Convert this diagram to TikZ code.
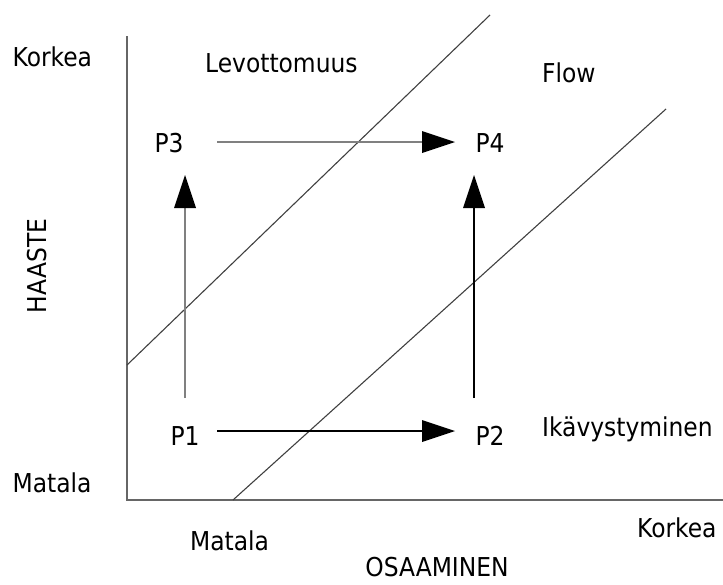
\documentclass[tikz,border=0pt]{standalone}
\usepackage{fontspec}
\setmainfont{DejaVu Sans Condensed}
\usetikzlibrary{arrows.meta}
\begin{document}
\begin{tikzpicture}[x=1pt,y=-1pt,
  lbl/.style={font=\fontsize{26}{30}\selectfont, inner sep=0pt, text=black},
  axisline/.style={line width=1.7pt, draw=black!60},
  diag/.style={line width=1.1pt, draw=black!75},
  bigtip/.style={-{Triangle[length=33pt,width=22pt,color=black,line width=0pt]}},
  grayarrow/.style={line width=2.5pt, draw=black!50, bigtip},
  blackarrow/.style={line width=1.3pt, draw=black, bigtip}]
\useasboundingbox (0,0) rectangle (723,584);
% axes
\coordinate (top) at (127,36);
\coordinate (origin) at (127,500);
\coordinate (right) at (723,500);
\draw[axisline] (top) -- (origin) -- (right);
% diagonals
\coordinate (d1a) at (127,365);
\coordinate (d1b) at (490,15);
\coordinate (d2a) at (233,500);
\coordinate (d2b) at (666,109);
\draw[diag] (d1a) -- (d1b);
\draw[diag] (d2a) -- (d2b);
% labels
\node[lbl, anchor=base west] (kl) at (12.5,66) {Korkea};
\node[lbl, anchor=base west] (lev) at (205,72) {Levottomuus};
\node[lbl, anchor=base west] (flow) at (542,82) {Flow};
\node[lbl, anchor=base west] (ika) at (542,436) {Ikävystyminen};
\node[lbl, anchor=base west] (ml) at (12.5,492) {Matala};
\node[lbl, anchor=base west] (mb) at (190,550) {Matala};
\node[lbl, anchor=base west] (kr) at (637,537) {Korkea};
\node[lbl, anchor=base] (osa) at (437,576) {OSAAMINEN};
\node[lbl, anchor=center, rotate=90] (haa) at (37,266) {HAASTE};
% points
\node[lbl, anchor=base] (p1) at (185,445) {P1};
\node[lbl, anchor=base] (p2) at (490,445) {P2};
\node[lbl, anchor=base] (p3) at (169,152) {P3};
\node[lbl, anchor=base] (p4) at (490,152) {P4};
% arrow ends
\coordinate (p3r) at (217,142);
\coordinate (p4l) at (455,142);
\coordinate (p1r) at (217,431);
\coordinate (p2l) at (455,431);
\coordinate (p1u) at (185,398);
\coordinate (p3d) at (185,175);
\coordinate (p2u) at (474,398);
\coordinate (p4d) at (474,175);
\draw[grayarrow] (p3r) -- (p4l);
\draw[grayarrow] (p1u) -- (p3d);
\draw[blackarrow] (p1r) -- (p2l);
\draw[blackarrow] (p2u) -- (p4d);
\end{tikzpicture}
\end{document}
